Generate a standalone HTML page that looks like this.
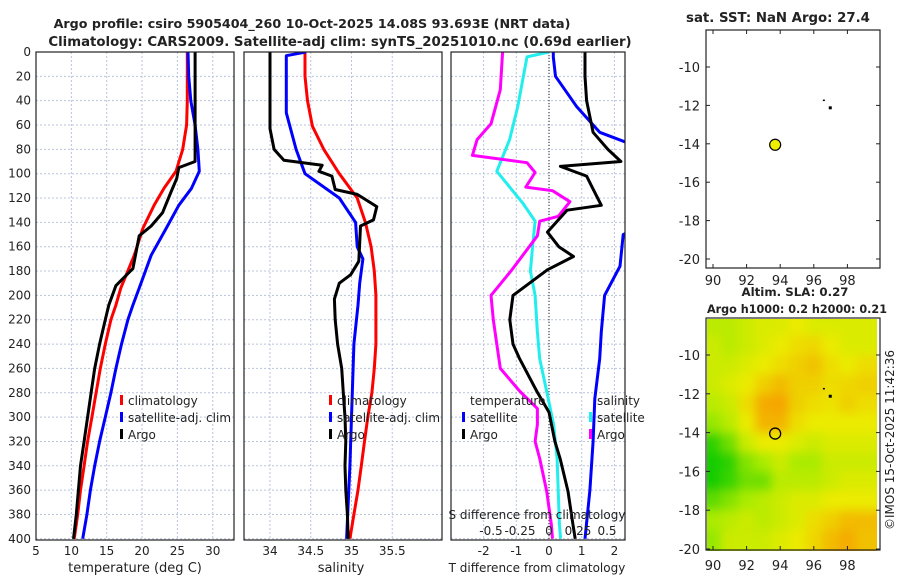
<!DOCTYPE html>
<html><head><meta charset="utf-8"><style>
body{margin:0;background:#fff}
svg{display:block;font-family:"DejaVu Sans","Liberation Sans",sans-serif}
</style></head><body>
<svg id="c" width="900" height="580" viewBox="0 0 900 580">
<defs>
<clipPath id="cp1"><rect x="36" y="52" width="198" height="488"/></clipPath>
<clipPath id="cp2"><rect x="244" y="52" width="198" height="488"/></clipPath>
<clipPath id="cp3"><rect x="451" y="52" width="174" height="488"/></clipPath>
<clipPath id="cpm"><rect x="707" y="319" width="170" height="232"/></clipPath>
<filter id="bl" x="-10%" y="-10%" width="120%" height="120%"><feGaussianBlur stdDeviation="5"/></filter>
</defs>
<g id="root"></g>
</svg>
<script>
// ---- data ----
const tDepth=[0,20,40,60,80,98,112,126,145,167,194,208,220,240,260,280,300,320,340,360,380,400];
const tClim=[26.4,26.4,26.4,26.3,25.75,24.8,23.1,21.7,20.1,18.9,17.0,16.3,15.6,14.8,14.1,13.5,12.9,12.3,11.8,11.3,10.9,10.4];
const tSat=[26.5,26.6,26.9,27.5,27.9,28.1,27,25.2,23.4,21.3,19.6,18.7,18.0,17.1,16.3,15.6,14.8,14.0,13.3,12.7,12.2,11.6];
const argoTDepth=[0,20,60,90,95,104,115,132,143,151,178,192,208,220,240,260,280,300,320,340,360,380,400];
const argoT=[27.5,27.5,27.5,27.5,25.2,24.9,24.1,22.9,21.3,19.6,18.7,16.3,15.3,14.8,14.0,13.3,12.8,12.3,11.8,11.3,11.0,10.7,10.3];
const sDepth=[0,20,40,61,80,100,120,140,160,180,200,220,240,260,280,300,320,340,360,380,400];
const sClim=[34.43,34.43,34.46,34.52,34.66,34.85,35.07,35.17,35.24,35.28,35.3,35.3,35.3,35.28,35.25,35.2,35.16,35.12,35.08,35.03,34.98];
const sSatDepth=[0,3,50,80,100,120,140,160,170,190,208,240,260,300,340,400];
const sSat=[34.44,34.2,34.2,34.32,34.43,34.85,35.05,35.07,35.14,35.1,35.08,35.03,35.02,35.0,34.98,34.94];
const argoSDepth=[0,63,80,89,93,98,102,113,117,127,138,143,172,183,190,203,220,240,260,280,300,320,340,360,380,400];
const argoS=[34.0,34.0,34.05,34.17,34.64,34.6,34.76,34.8,35.07,35.31,35.27,35.11,35.09,34.99,34.85,34.79,34.8,34.83,34.88,34.9,34.92,34.93,34.92,34.93,34.95,34.96];
const dTArgoDepth=[0,4,20,40,66,80,90,94,102,110,126,130,148,160,168,179,200,220,240,252,279,296,320,334,361,388,400];
const dTArgo=[1.1,1.1,1.1,1.15,1.35,1.8,2.2,0.35,1.15,1.3,1.6,0.55,-0.05,0.3,0.75,-0.05,-1.1,-1.2,-1.1,-0.9,-0.37,0,0.18,0.34,0.58,0.73,0.8];
const dTSatDepth=[0,4,20,45,66,91,126,150,176,200,230,252,285,320,360,400];
const dTSat=[0.13,0.13,0.2,0.85,1.55,4,4,2.27,2.17,1.7,1.6,1.55,1.4,1.35,1.25,1.1];
const dSSatDepth=[0,4,45,72,98,125,139,158,180,200,230,252,279,306,334,388,400];
const dSSat=[0,-0.19,-0.27,-0.34,-0.45,-0.22,-0.12,-0.14,-0.16,-0.12,-0.1,-0.08,-0.02,0.04,0.07,0.09,0.1];
const dSArgoDepth=[0,31,59,72,85,91,99,111,114,123,135,139,151,179,200,220,240,260,279,293,306,320,334,361,388,400];
const dSArgo=[-0.4,-0.42,-0.5,-0.62,-0.66,-0.19,-0.12,-0.2,0.03,0.18,0.08,-0.08,-0.1,-0.32,-0.5,-0.48,-0.45,-0.42,-0.25,-0.1,-0.1,-0.12,-0.08,-0.02,0.02,0.03];
const depthTicks=[0,20,40,60,80,100,120,140,160,180,200,220,240,260,280,300,320,340,360,380,400];
const tTicks=[5,10,15,20,25,30];
const sTicks=[34,34.5,35,35.5];
const dTTicks=[-2,-1,0,1,2];
const dSTicks=[-0.5,-0.25,0,0.25,0.5];
const lonTicks=[90,92,94,96,98];
const latTicks=[-10,-12,-14,-16,-18,-20];
const floatLon=[93.7];
const floatLat=[-14.05];
const otherLon=[96.6,96.95];
const otherLat=[-11.75,-12.1];
const slaLat=[-8.5,-9.5,-10.5,-11.5,-12.5,-13.5,-14.5,-15.5,-16.5,-17.5,-18.5,-19.5];
const slaLon=[90,91,92,93,94,95,96,97,98,99];
const slaGrid=[
[.5,.5,.55,.6,.6,.65,.6,.6,.6,.6],
[.55,.5,.55,.6,.65,.7,.72,.65,.6,.6],
[.55,.55,.6,.65,.7,.75,.8,.7,.65,.7],
[.55,.6,.65,.75,.82,.75,.75,.7,.72,.75],
[.5,.55,.7,.88,.9,.75,.7,.68,.75,.7],
[.4,.5,.65,.85,.85,.7,.65,.65,.65,.65],
[.12,.3,.55,.65,.65,.6,.55,.6,.6,.6],
[.05,.12,.35,.45,.55,.45,.45,.55,.55,.55],
[.05,.15,.3,.3,.5,.5,.5,.55,.6,.6],
[.25,.35,.45,.5,.55,.6,.6,.65,.65,.65],
[.45,.5,.55,.5,.55,.6,.7,.75,.82,.82],
[.4,.55,.55,.55,.6,.65,.72,.82,.88,.8]];

// ---- scales ----
const yD=d=>52+d*1.217;
const xT=t=>36+(t-5)*7.07;
const xS=s=>270+(s-34)*81.5;
const xDT=v=>549+v*32.7;
const xDS=v=>549+v*116;
const xLon=l=>713+(l-90)*16.8;
const yLatTop=l=>67+(-10-l)*19.2;
const yLatBot=l=>355+(-10-l)*19.4;

const NS='http://www.w3.org/2000/svg';
const root=document.getElementById('root');
function mk(tag,attrs,parent,text){const e=document.createElementNS(NS,tag);for(const k in attrs)e.setAttribute(k,attrs[k]);if(text!==undefined)e.textContent=text;(parent||root).appendChild(e);return e;}

function grid(x0,x1,xs,xf){
  const g=mk('g',{});
  
  
  depthTicks.forEach(d=>mk('line',{x1:x0,x2:x1,y1:yD(d),y2:yD(d),stroke:'#b8c4dc','stroke-width':1,'stroke-dasharray':'2,2'},g));
  xs.forEach(v=>mk('line',{x1:xf(v),x2:xf(v),y1:52,y2:540,stroke:'#b8c4dc','stroke-width':1,'stroke-dasharray':'2,2'},g));
}
function series(depths,vals,xf,color,clip,name){
  const pts=depths.map((d,i)=>xf(vals[i]).toFixed(1)+','+yD(d).toFixed(1)).join(' ');
  const p=mk('polyline',{points:pts,fill:'none',stroke:color,'stroke-width':3,'stroke-linejoin':'round','clip-path':'url(#'+clip+')'});
  
  
}
function box(x,y,w,h,name){
  const r=mk('rect',{x:x,y:y,width:w,height:h,fill:'none',stroke:'#222','stroke-width':1.2});
  
  
}
function txt(x,y,s,opts,name){
  const t=mk('text',Object.assign({x:x,y:y,'font-size':13,fill:'#222'},opts||{}),root,s);
  
  
  return t;
}
function legendItem(x,y,color,label,name){
  const g=mk('g',{});
  
  
  mk('rect',{x:x,y:y-10,width:3,height:10,fill:color},g);
  mk('text',{x:x+8,y:y,'font-size':12,fill:'#222'},g,label);
}

// Panel 1: temperature
grid(36,234,[10,15,20,25,30],xT);
series(tDepth,tClim,xT,'#ff0000','cp1','temp-climatology-line');
series(tDepth,tSat,xT,'#0000ff','cp1','temp-satellite-line');
series(argoTDepth,argoT,xT,'#000000','cp1','temp-argo-line');
box(36,52,198,488,'temperature-axes');
depthTicks.forEach(d=>txt(31,yD(d)+4,String(d),{'text-anchor':'end','font-size':12},'depth-tick-label'));
tTicks.forEach(v=>txt(xT(v),555,String(v),{'text-anchor':'middle','font-size':12},'temp-tick-label'));
txt(135,572,'temperature (deg C)',{'text-anchor':'middle'},'temp-x-axis-title');
legendItem(120,405,'#ff0000','climatology','legend-climatology');
legendItem(120,422,'#0000ff','satellite-adj. clim','legend-satellite');
legendItem(120,439,'#000000','Argo','legend-argo');

// Panel 2: salinity
grid(244,442,sTicks,xS);
series(sDepth,sClim,xS,'#ff0000','cp2','sal-climatology-line');
series(sSatDepth,sSat,xS,'#0000ff','cp2','sal-satellite-line');
series(argoSDepth,argoS,xS,'#000000','cp2','sal-argo-line');
box(244,52,198,488,'salinity-axes');
sTicks.forEach(v=>txt(xS(v),555,String(v),{'text-anchor':'middle','font-size':12},'sal-tick-label'));
txt(341,572,'salinity',{'text-anchor':'middle'},'sal-x-axis-title');
legendItem(329,405,'#ff0000','climatology','legend-sal-climatology');
legendItem(329,422,'#0000ff','satellite-adj. clim','legend-sal-satellite');
legendItem(329,439,'#000000','Argo','legend-sal-argo');

// Panel 3: differences
grid(451,625,dTTicks,xDT);
mk('line',{x1:549,x2:549,y1:52,y2:540,stroke:'#444','stroke-width':1.2,'stroke-dasharray':'1,2'});
series(dSSatDepth,dSSat,xDS,'#22eeee','cp3','sdiff-satellite-line');
series(dSArgoDepth,dSArgo,xDS,'#ff00ff','cp3','sdiff-argo-line');
series(dTSatDepth,dTSat,xDT,'#0000ff','cp3','tdiff-satellite-line');
series(dTArgoDepth,dTArgo,xDT,'#000000','cp3','tdiff-argo-line');
box(451,52,174,488,'difference-axes');
dTTicks.forEach(v=>txt(xDT(v),555,String(v),{'text-anchor':'middle','font-size':12},'tdiff-tick-label'));
dSTicks.forEach(v=>txt(xDS(v),535,String(v),{'text-anchor':'middle','font-size':12},'sdiff-tick-label'));
txt(537,519,'S difference from climatology',{'text-anchor':'middle','font-size':12},'sdiff-axis-title');
txt(537,572,'T difference from climatology',{'text-anchor':'middle','font-size':12},'tdiff-x-axis-title');
txt(470,405,'temperature',{'font-size':12},'legend-temperature-header');
legendItem(462,422,'#0000ff','satellite','legend-tdiff-satellite');
legendItem(462,439,'#000000','Argo','legend-tdiff-argo');
txt(597,405,'salinity',{'font-size':12},'legend-salinity-header');
legendItem(589,422,'#22eeee','satellite','legend-sdiff-satellite');
legendItem(589,439,'#ff00ff','Argo','legend-sdiff-argo');

// titles
txt(312,28,'Argo profile: csiro 5905404_260 10-Oct-2025 14.08S 93.693E (NRT data)',{'text-anchor':'middle','font-weight':'bold','font-size':12.7},'main-title');
txt(340,46,'Climatology: CARS2009. Satellite-adj clim: synTS_20251010.nc (0.69d earlier)',{'text-anchor':'middle','font-weight':'bold','font-size':13.3},'main-subtitle');

// Top map: SST
box(706,30,174,238,'sst-map-axes');
latTicks.forEach(l=>{mk('line',{x1:706,x2:710,y1:yLatTop(l),y2:yLatTop(l),stroke:'#222'});mk('line',{x1:876,x2:880,y1:yLatTop(l),y2:yLatTop(l),stroke:'#222'});txt(700,yLatTop(l)+5,String(l),{'text-anchor':'end'},'sst-lat-tick');});
lonTicks.forEach(l=>{mk('line',{x1:xLon(l),x2:xLon(l),y1:30,y2:34,stroke:'#222'});mk('line',{x1:xLon(l),x2:xLon(l),y1:264,y2:268,stroke:'#222'});txt(xLon(l),285,String(l),{'text-anchor':'middle'},'sst-lon-tick');});
txt(778,22,'sat. SST: NaN Argo: 27.4',{'text-anchor':'middle','font-weight':'bold','font-size':13.3},'sst-title');
otherLon.forEach((l,i)=>{const r=mk('rect',{x:xLon(l)-1,y:yLatTop(otherLat[i])-1,width:i?3:2,height:i?3:1.5,fill:'#000'});});
floatLon.forEach((l,i)=>{const c=mk('circle',{cx:xLon(l),cy:yLatTop(floatLat[i]),r:5.5,fill:'#eeee00',stroke:'#000','stroke-width':1.2});});

// Bottom map: SLA heatmap
function col(v){
  const stops=[[0,[0,200,0]],[0.45,[170,235,0]],[0.65,[235,235,0]],[0.9,[245,165,0]],[1,[240,150,0]]];
  for(let i=1;i<stops.length;i++){if(v<=stops[i][0]){const a=stops[i-1],b=stops[i],t=(v-a[0])/(b[0]-a[0]);return 'rgb('+a[1].map((c,j)=>Math.round(c+(b[1][j]-c)*t)).join(',')+')';}}
  return 'rgb(240,150,0)';
}
const hm=mk('g',{'clip-path':'url(#cpm)'});


const hb=mk('g',{filter:'url(#bl)'},hm);
slaLat.forEach((la,i)=>slaLon.forEach((lo,j)=>{
  const x0=xLon(lo-0.5),y0=yLatBot(la+0.5);
  const r=mk('rect',{x:x0-(j==0?20:0),y:y0-(i==0?20:0),width:16.8+1+(j==0||j==9?20:0),height:19.4+1+(i==0||i==11?20:0),fill:col(slaGrid[i][j])},hb);
  
  
}));
box(706,318,174,232,'sla-map-axes');
latTicks.forEach(l=>{mk('line',{x1:706,x2:710,y1:yLatBot(l),y2:yLatBot(l),stroke:'#222'});mk('line',{x1:876,x2:880,y1:yLatBot(l),y2:yLatBot(l),stroke:'#222'});txt(700,yLatBot(l)+5,String(l),{'text-anchor':'end'},'sla-lat-tick');});
lonTicks.forEach(l=>{mk('line',{x1:xLon(l),x2:xLon(l),y1:546,y2:550,stroke:'#222'});txt(xLon(l),570,String(l),{'text-anchor':'middle'},'sla-lon-tick');});
txt(795,296,'Altim. SLA: 0.27',{'text-anchor':'middle','font-weight':'bold','font-size':11.8},'sla-title');
txt(797,313,'Argo h1000: 0.2 h2000: 0.21',{'text-anchor':'middle','font-weight':'bold','font-size':11.2},'sla-subtitle');
otherLon.forEach((l,i)=>{const r=mk('rect',{x:xLon(l)-1,y:yLatBot(otherLat[i])-1,width:i?3:2,height:i?3:1.5,fill:'#000'});});
floatLon.forEach((l,i)=>{const c=mk('circle',{cx:xLon(l),cy:yLatBot(floatLat[i]),r:5.5,fill:'none',stroke:'#000','stroke-width':1.3});});
txt(0,0,'©IMOS 15-Oct-2025 11:42:36',{transform:'translate(894,440) rotate(-90)','text-anchor':'middle','font-size':12},'imos-timestamp');
</script>
</body></html>
